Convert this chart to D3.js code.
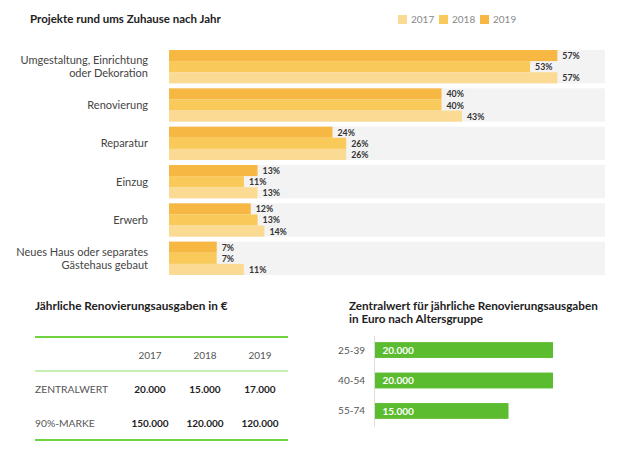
<!DOCTYPE html>
<html><head><meta charset="utf-8">
<script src="https://cdn.jsdelivr.net/npm/d3@7"></script>
<style>
body{margin:0;background:#fff;}
svg{display:block;font-family:Lato, "Open Sans", sans-serif;}
</style></head>
<body><svg id="c" width="618" height="453"></svg>
<script>
// ---- data ----
const projectCategories = [
  ["Umgestaltung, Einrichtung", "oder Dekoration"],
  ["Renovierung"],
  ["Reparatur"],
  ["Einzug"],
  ["Erwerb"],
  ["Neues Haus oder separates", "Gästehaus gebaut"]
];
const years = ["2019", "2018", "2017"];
const legendYears = ["2017", "2018", "2019"];
const values2019 = [57, 40, 24, 13, 12, 7];
const values2018 = [53, 40, 26, 11, 13, 7];
const values2017 = [57, 43, 26, 13, 14, 11];

const tableYears = ["2017", "2018", "2019"];
const tableRows = ["ZENTRALWERT", "90%-MARKE"];
const tableZentralwert = ["20.000", "15.000", "17.000"];
const tableMarke90 = ["150.000", "120.000", "120.000"];

const ageGroups = ["25-39", "40-54", "55-74"];
const ageValues = [20000, 20000, 15000];

// ---- styles ----
const colors = {"2017": "#fbdb93", "2018": "#f9c95a", "2019": "#f7b843"};
const svg = d3.select("#c");

// ---- top chart ----
svg.append("text").attr("x", 30).attr("y", 23).attr("font-size", 11.5).attr("font-weight", 700)
  .attr("fill", "#222").text("Projekte rund ums Zuhause nach Jahr");

const lg = svg.append("g");
const legendX = d3.scalePoint().domain(legendYears).range([398, 480]);
legendYears.forEach(y => {
  lg.append("rect").attr("x", legendX(y)).attr("y", 15).attr("width", 9).attr("height", 9).attr("fill", colors[y]);
  lg.append("text").attr("x", legendX(y) + 13).attr("y", 23).attr("font-size", 10).attr("fill", "#888").text(y);
});

const x = d3.scaleLinear().domain([0, 64]).range([169, 605]);
const yGroup = d3.scaleBand().domain(d3.range(projectCategories.length)).range([50, 275]).paddingInner(0.13).paddingOuter(0);
const yBar = d3.scaleBand().domain(years).range([0, yGroup.bandwidth()]);
const series = {"2019": values2019, "2018": values2018, "2017": values2017};

const groups = svg.selectAll("g.grp").data(projectCategories).join("g").attr("class", "grp")
  .attr("transform", (d, i) => `translate(0,${yGroup(i)})`);
groups.append("rect").attr("x", x(0)).attr("y", 0).attr("width", x(64) - x(0)).attr("height", yGroup.bandwidth()).attr("fill", "#f3f3f3");
groups.each(function(lines, i) {
  const g = d3.select(this);
  years.forEach(yr => {
    const v = series[yr][i];
    g.append("rect").attr("x", x(0)).attr("y", yBar(yr)).attr("width", x(v) - x(0)).attr("height", yBar.bandwidth()).attr("fill", colors[yr]);
    g.append("text").attr("x", x(v) + 5).attr("y", yBar(yr) + yBar.bandwidth() / 2 + 3.5)
      .attr("font-size", 8.8).attr("font-weight", 700).attr("fill", "#333").text(v + "%");
  });
  const t = g.append("text").attr("text-anchor", "end").attr("font-size", 11).attr("fill", "#444");
  const mid = yGroup.bandwidth() / 2;
  const lh = 13.5;
  lines.forEach((ln, k) => {
    t.append("tspan").attr("x", 148).attr("y", mid + 4 + (k - (lines.length - 1) / 2) * lh).text(ln);
  });
});

// ---- table ----
svg.append("text").attr("x", 35).attr("y", 309.5).attr("font-size", 11.8).attr("font-weight", 700).attr("fill", "#222")
  .text("Jährliche Renovierungsausgaben in €");
svg.append("line").attr("x1", 35).attr("x2", 288).attr("y1", 337).attr("y2", 337).attr("stroke", "#6fd23e").attr("stroke-width", 2.2);
svg.append("line").attr("x1", 35).attr("x2", 288).attr("y1", 371).attr("y2", 371).attr("stroke", "#8ee06a").attr("stroke-width", 1.2);
svg.append("line").attr("x1", 35).attr("x2", 288).attr("y1", 440).attr("y2", 440).attr("stroke", "#6fd23e").attr("stroke-width", 2.2);
const colX = d3.scalePoint().domain(tableYears).range([150, 260]);
tableYears.forEach(y => {
  svg.append("text").attr("x", colX(y)).attr("y", 358.5).attr("text-anchor", "middle").attr("font-size", 10).attr("fill", "#555").text(y);
});
const rowY = d3.scalePoint().domain(tableRows).range([393, 427]);
const rowVals = {"ZENTRALWERT": tableZentralwert, "90%-MARKE": tableMarke90};
tableRows.forEach(r => {
  svg.append("text").attr("x", 35).attr("y", rowY(r)).attr("font-size", 10.3).attr("fill", "#555").text(r);
  rowVals[r].forEach((v, j) => {
    svg.append("text").attr("x", colX(tableYears[j])).attr("y", rowY(r)).attr("text-anchor", "middle")
      .attr("font-size", 10).attr("font-weight", 700).attr("fill", "#222").text(v);
  });
});

// ---- age chart ----
const at = svg.append("text").attr("font-size", 11.7).attr("font-weight", 700).attr("fill", "#222");
at.append("tspan").attr("x", 349).attr("y", 309.5).text("Zentralwert für jährliche Renovierungsausgaben");
at.append("tspan").attr("x", 349).attr("y", 323).text("in Euro nach Altersgruppe");

const ax = d3.scaleLinear().domain([0, 20000]).range([375, 553]);
const ay = d3.scaleBand().domain(ageGroups).range([334.5, 426.5]).paddingInner(0.48).paddingOuter(0.25);
svg.append("line").attr("x1", 374.5).attr("x2", 374.5).attr("y1", 336).attr("y2", 427).attr("stroke", "#ddd").attr("stroke-width", 1);
ageGroups.forEach((g, i) => {
  svg.append("rect").attr("x", ax(0)).attr("y", ay(g)).attr("width", ax(ageValues[i]) - ax(0)).attr("height", ay.bandwidth()).attr("fill", "#5cbc30");
  svg.append("text").attr("x", 382.5).attr("y", ay(g) + ay.bandwidth() / 2 + 3.7).attr("font-size", 10).attr("font-weight", 700)
    .attr("fill", "#fff").text(d3.format(",")(ageValues[i]).replace(/,/g, "."));
  svg.append("text").attr("x", 365).attr("y", ay(g) + ay.bandwidth() / 2 + 3.5).attr("text-anchor", "end").attr("font-size", 10)
    .attr("fill", "#555").text(g);
});
</script></body></html>
